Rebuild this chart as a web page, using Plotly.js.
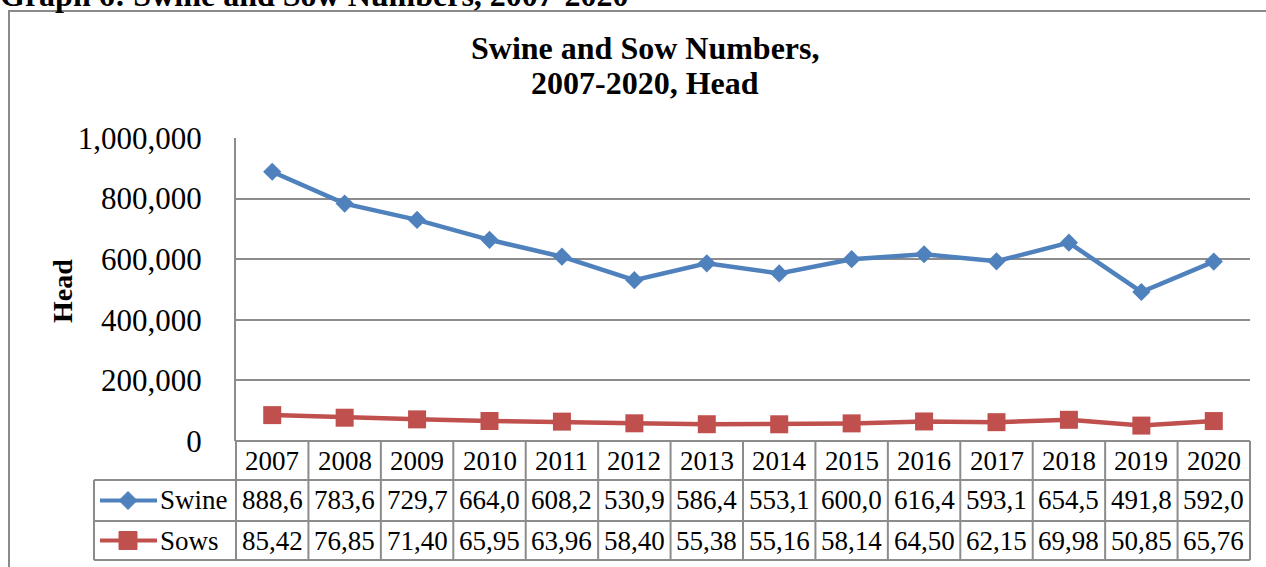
<!DOCTYPE html>
<html>
<head>
<meta charset="utf-8">
<script src="https://cdn.plot.ly/plotly-3.0.1.min.js"></script>
<style>
  html, body { margin: 0; padding: 0; background: #ffffff; }
  #chart { width: 1266px; height: 567px; }
</style>
</head>
<body>
<div id="chart"></div>
<script>
// Swine and sow head counts by year
const years = ['2007', '2008', '2009', '2010', '2011', '2012', '2013',
               '2014', '2015', '2016', '2017', '2018', '2019', '2020'];
const swine = [888600, 783600, 729700, 664000, 608200, 530900, 586400,
               553100, 600000, 616400, 593100, 654500, 491800, 592000];
const sows  = [85420, 76850, 71400, 65950, 63960, 58400, 55380,
               55160, 58140, 64500, 62150, 69980, 50850, 65760];
const seriesNames = ['Swine', 'Sows'];
const yTicks = [0, 200000, 400000, 600000, 800000, 1000000];

const W = 1266, H = 567;
const M = { l: 236, r: 16, t: 138, b: 126 };
const plotW = W - M.l - M.r, plotH = H - M.t - M.b;
// pixel -> paper helpers for decorations placed around the plot
const px = v => (v - M.l) / plotW;
const py = v => (H - M.b - v) / plotH;

const SERIF = 'Liberation Serif, Times New Roman, serif';
const BLUE = '#4F81BD', RED = '#C0504D', GRID = '#8c8c8c';

const traces = [
  {
    x: years, y: swine, name: seriesNames[0], type: 'scatter', mode: 'lines+markers',
    line: { color: BLUE, width: 4.5 },
    marker: { symbol: 'diamond', size: 14, color: BLUE },
    cliponaxis: false, showlegend: false, hoverinfo: 'x+y'
  },
  {
    x: years, y: sows, name: seriesNames[1], type: 'scatter', mode: 'lines+markers',
    line: { color: RED, width: 4.5 },
    marker: { symbol: 'square', size: 18, color: RED },
    cliponaxis: false, showlegend: false, hoverinfo: 'x+y'
  }
];

// data-table cell text: the narrow cells show the first five characters
const cellText = v => v.toLocaleString('en-US').slice(0, 5);

const shapes = [];
const annotations = [];
const lineStyle = { color: GRID, width: 2 };

// outer chart frame
shapes.push({ type: 'rect', xref: 'paper', yref: 'paper',
  x0: px(9), x1: px(1300), y0: py(11), y1: py(620),
  line: { color: '#8a8a8a', width: 2 }, fillcolor: 'rgba(0,0,0,0)', layer: 'below' });

// data table grid
const rowY = [441, 480, 521, 560];
for (let i = 0; i <= years.length; i++) {
  shapes.push({ type: 'line', xref: 'x domain', yref: 'paper',
    x0: i / years.length, x1: i / years.length, y0: py(441), y1: py(560), line: lineStyle });
}
shapes.push({ type: 'line', xref: 'paper', yref: 'paper',
  x0: px(94), x1: px(94), y0: py(480), y1: py(560), line: lineStyle });
rowY.slice(1).forEach(r => {
  shapes.push({ type: 'line', xref: 'paper', yref: 'paper',
    x0: px(94), x1: 1, y0: py(r), y1: py(r), line: lineStyle });
});

// legend keys inside the table
const keyY = [500.5, 540.5];
shapes.push({ type: 'line', xref: 'paper', yref: 'paper',
  x0: px(100), x1: px(157), y0: py(keyY[0]), y1: py(keyY[0]), line: { color: BLUE, width: 4 } });
shapes.push({ type: 'path', xref: 'paper', yref: 'paper',
  path: `M ${px(128)} ${py(keyY[0] - 9)} L ${px(137)} ${py(keyY[0])} L ${px(128)} ${py(keyY[0] + 9)} L ${px(119)} ${py(keyY[0])} Z`,
  fillcolor: BLUE, line: { color: BLUE, width: 1 } });
shapes.push({ type: 'line', xref: 'paper', yref: 'paper',
  x0: px(100), x1: px(157), y0: py(keyY[1]), y1: py(keyY[1]), line: { color: RED, width: 4 } });
shapes.push({ type: 'rect', xref: 'paper', yref: 'paper',
  x0: px(119), x1: px(137), y0: py(keyY[1] - 9), y1: py(keyY[1] + 9),
  fillcolor: RED, line: { color: RED, width: 1 } });

const cellFont = { family: SERIF, size: 27, color: '#000000' };
const headerY = 460.5;
years.forEach((yr, i) => {
  annotations.push({ xref: 'x', yref: 'paper', x: i, y: py(headerY), text: yr,
    showarrow: false, font: cellFont, xanchor: 'center', yanchor: 'middle' });
  annotations.push({ xref: 'x', yref: 'paper', x: i, y: py(keyY[0]), text: cellText(swine[i]),
    showarrow: false, font: cellFont, xanchor: 'center', yanchor: 'middle' });
  annotations.push({ xref: 'x', yref: 'paper', x: i, y: py(keyY[1]), text: cellText(sows[i]),
    showarrow: false, font: cellFont, xanchor: 'center', yanchor: 'middle' });
});
seriesNames.forEach((nm, k) => {
  annotations.push({ xref: 'paper', yref: 'paper', x: px(158), y: py(keyY[k]), text: nm,
    showarrow: false, font: cellFont, xanchor: 'left', yanchor: 'middle' });
});

// chart title (two lines) and document heading above the frame
const titleFont = { family: SERIF, size: 32, color: '#000000' };
annotations.push({ xref: 'paper', yref: 'paper', x: px(645), y: py(48),
  text: '<b>Swine and Sow Numbers,</b>', showarrow: false, font: titleFont,
  xanchor: 'center', yanchor: 'middle' });
annotations.push({ xref: 'paper', yref: 'paper', x: px(645), y: py(83),
  text: '<b>2007-2020, Head</b>', showarrow: false, font: titleFont,
  xanchor: 'center', yanchor: 'middle' });
annotations.push({ xref: 'paper', yref: 'paper', x: px(-2), y: py(-5),
  text: '<b>Graph 6: Swine and Sow Numbers, 2007-2020</b>', showarrow: false,
  font: { family: SERIF, size: 32, color: '#000000' }, xanchor: 'left', yanchor: 'middle' });

// y-axis title
annotations.push({ xref: 'paper', yref: 'paper', x: px(62), y: py(291),
  text: '<b>Head</b>', textangle: -90, showarrow: false,
  font: { family: SERIF, size: 28, color: '#000000' }, xanchor: 'center', yanchor: 'middle' });

const layout = {
  width: W, height: H,
  margin: M,
  paper_bgcolor: '#ffffff', plot_bgcolor: '#ffffff',
  showlegend: false,
  xaxis: {
    type: 'category', range: [-0.5, years.length - 0.5],
    showticklabels: false, ticks: '', showgrid: false, zeroline: false, showline: false,
    fixedrange: true
  },
  yaxis: {
    range: [0, 1000000], tickvals: yTicks, tickformat: ',d',
    tickfont: { family: SERIF, size: 31, color: '#000000' },
    ticks: '', ticklabelstandoff: 26,
    showgrid: true, gridcolor: GRID, gridwidth: 2,
    zeroline: true, zerolinecolor: GRID, zerolinewidth: 2,
    showline: true, linecolor: GRID, linewidth: 2,
    fixedrange: true
  },
  shapes: shapes,
  annotations: annotations
};

Plotly.newPlot('chart', traces, layout, { displayModeBar: false, staticPlot: true });
</script>
</body>
</html>
